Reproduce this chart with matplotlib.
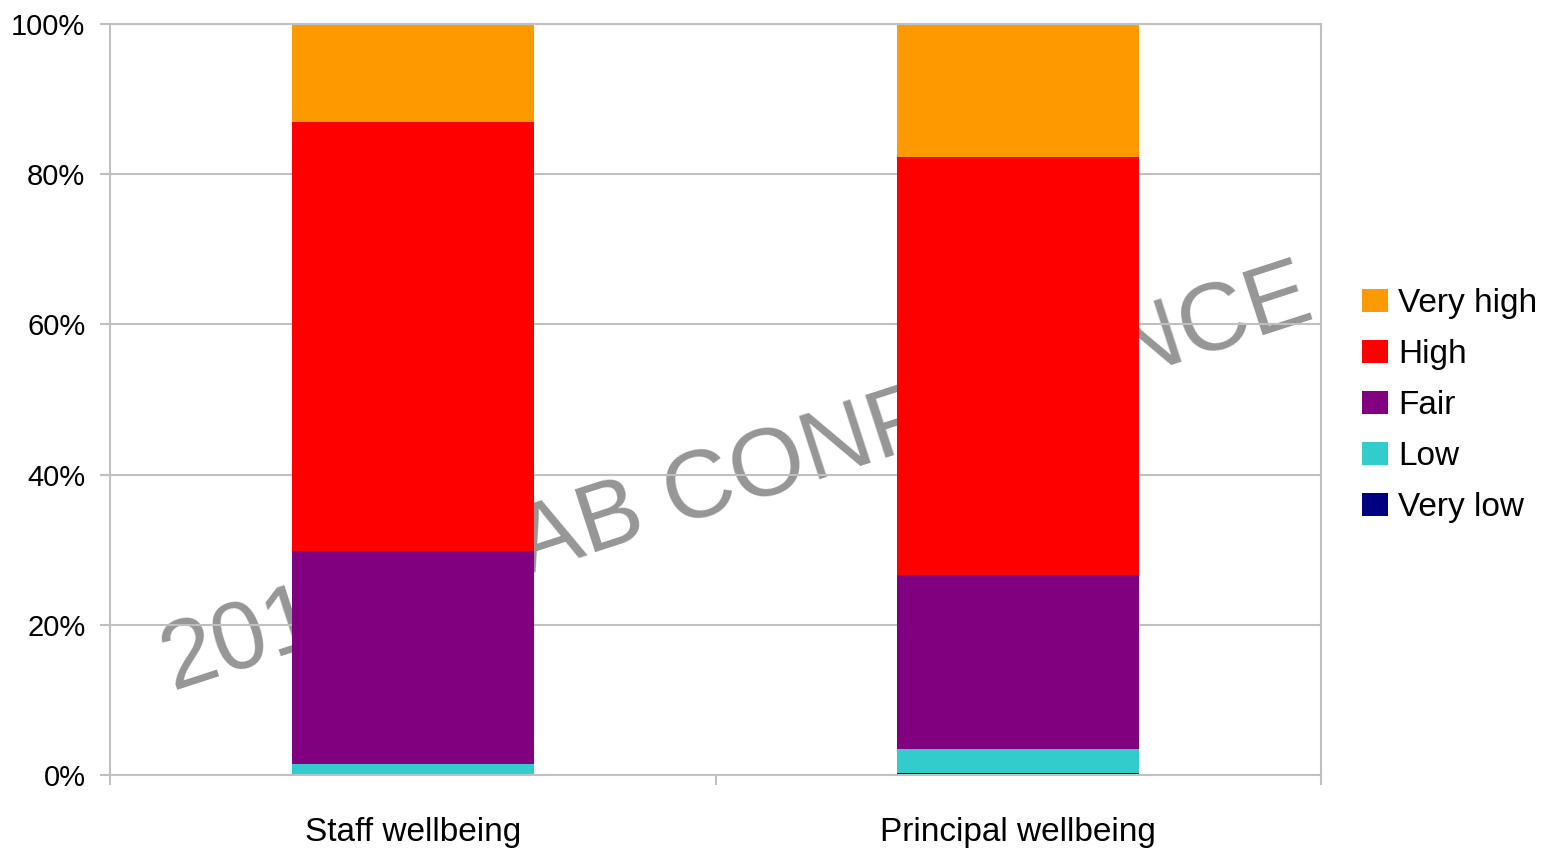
import numpy as np
import matplotlib
matplotlib.use("Agg")
import matplotlib.pyplot as plt
from matplotlib.ticker import FixedLocator, FuncFormatter

plt.rcParams['font.family'] = ['Liberation Sans', 'DejaVu Sans']

categories = ["Staff wellbeing", "Principal wellbeing"]
series_names = ["Very low", "Low", "Fair", "High", "Very high"]
very_low = [0.0, 0.3]
low = [1.5, 3.2]
fair = [28.3, 23.1]
high = [57.2, 55.7]
very_high = [13.0, 17.7]
series_values = [very_low, low, fair, high, very_high]
colors = ["#000080", "#33CCCC", "#800080", "#FF0000", "#FF9900"]
y_ticks = [0, 20, 40, 60, 80, 100]

W, H = 1549, 848
fig = plt.figure(figsize=(W / 100, H / 100), dpi=100)
ax = fig.add_axes([110 / W, (H - 775) / H, (1321 - 110) / W, (775 - 24) / H])

x = np.arange(len(categories))
bottom = np.zeros(len(categories))
handles = []
for name, vals, c in zip(series_names, series_values, colors):
    b = ax.bar(x, vals, width=0.4, bottom=bottom, color=c, label=name, zorder=2, linewidth=0)
    handles.append(b)
    bottom += np.array(vals)

ax.set_xlim(-0.5, 1.5)
ax.set_ylim(0, 100)

grey = "#C0C0C0"
ax.set_axisbelow(True)
ax.yaxis.set_major_locator(FixedLocator(y_ticks))
ax.yaxis.set_major_formatter(FuncFormatter(lambda v, p: f"{int(v)}%"))
ax.grid(axis='y', color=grey, linewidth=1.5, zorder=0.5)
ax.tick_params(axis='y', length=7.2, width=1.5, color=grey, labelsize=21, pad=10.5, labelcolor='black')

ax.set_xticks(x)
ax.set_xticklabels(categories)
ax.set_xticks([-0.5, 0.5, 1.5], minor=True)
ax.tick_params(axis='x', which='major', length=0, labelsize=24, pad=30)
ax.tick_params(axis='x', which='minor', length=7.2, width=1.5, color=grey)

for s in ax.spines.values():
    s.set_color(grey)
    s.set_linewidth(1.5)

# watermark (drawn below grid and bars)
ang = 18.0
ox, oy = 172.0, H - 690.0
adv = 319.0
ax.text(ox / W, oy / H, "2019", transform=fig.transFigure, rotation=ang,
        rotation_mode='anchor', ha='left', va='baseline', fontsize=69.5,
        color='#969696', zorder=0.3)
ox2 = ox + adv * np.cos(np.radians(ang))
oy2 = oy + adv * np.sin(np.radians(ang))
ax.text(ox2 / W, oy2 / H, "LAB CONFERENCE", transform=fig.transFigure, rotation=ang,
        rotation_mode='anchor', ha='left', va='baseline', fontsize=69.5,
        color='#969696', zorder=0.3)

leg = fig.legend(handles[::-1], series_names[::-1], loc='center left',
                 bbox_to_anchor=(1362 / W, (H - 405.5) / H), frameon=False,
                 fontsize=24, handlelength=0.78, handleheight=0.7,
                 handletextpad=0.3, labelspacing=0.6, borderpad=0, borderaxespad=0)

fig.savefig("out.png", dpi=100, facecolor='white')
